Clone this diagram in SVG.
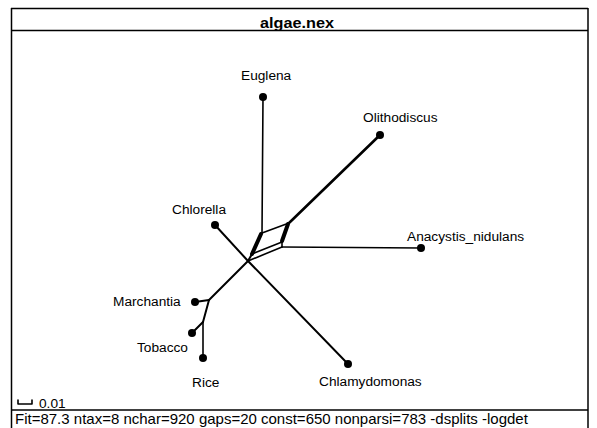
<svg xmlns="http://www.w3.org/2000/svg" width="597" height="428" viewBox="0 0 597 428">
<style>
.frame{fill:none;stroke:#000;stroke-width:1.5}
.e{fill:none;stroke:#000;stroke-width:2;stroke-linecap:round;stroke-linejoin:round}
.thin{stroke-width:1.6}
.thick{stroke-width:4}
.dot{fill:#000}
.lbl{font-family:"Liberation Sans",Arial,sans-serif;font-size:13.7px;fill:#000}
.title{font-family:"Liberation Sans",Arial,sans-serif;font-size:14px;font-weight:bold;fill:#000}
.foot{font-family:"Liberation Sans",Arial,sans-serif;font-size:15px;fill:#000}
</style>
<rect width="597" height="428" fill="#fff"/>
<g id="frame">
<line class="frame" x1="11" y1="8.5" x2="588" y2="8.5"/>
<line class="frame" x1="11" y1="30.5" x2="588" y2="30.5"/>
<line class="frame" x1="11" y1="410" x2="588" y2="410"/>
<line class="frame" x1="11.5" y1="8" x2="11.5" y2="428"/>
<line class="frame" x1="588" y1="8" x2="588" y2="428"/>
<text class="title" x="297" y="28" text-anchor="middle" textLength="74" lengthAdjust="spacingAndGlyphs">algae.nex</text>
<text class="foot" x="15" y="424">Fit=87.3 ntax=8 nchar=920 gaps=20 const=650 nonparsi=783 -dsplits -logdet</text>
</g>
<g id="scalebar">
<path class="e thin" d="M18 400 V404 H32 V400" stroke-linecap="butt"/>
<text class="lbl" x="39" y="408">0.01</text>
</g>
<g id="connectors">
<line class="e thin" x1="262" y1="233" x2="263" y2="97"/>
<line class="e" x1="289" y1="223" x2="380" y2="135" style="stroke-width:2.6"/>
<line class="e thin" x1="282" y1="247" x2="421" y2="248"/>
<line class="e thin" x1="262" y1="233" x2="289" y2="223"/>
<line class="e thick" x1="261" y1="234" x2="252" y2="254"/>
<line class="e thick" x1="288" y1="224" x2="282" y2="241"/>
<line class="e thin" x1="282" y1="242" x2="282" y2="247"/>
<line class="e thin" x1="282" y1="242" x2="252" y2="254"/>
<line class="e thin" x1="282" y1="247" x2="248" y2="261"/>
<line class="e" x1="252" y1="254" x2="248" y2="261"/>
<line class="e" x1="248" y1="261" x2="215" y2="225"/>
<line class="e" x1="248" y1="261" x2="348" y2="364"/>
<line class="e" x1="248" y1="261" x2="209" y2="300"/>
<line class="e" x1="209" y1="300" x2="195" y2="302"/>
<line class="e" x1="209" y1="300" x2="203" y2="322"/>
<line class="e" x1="203" y1="322" x2="192" y2="333"/>
<line class="e thin" x1="203" y1="322" x2="203" y2="358"/>
</g>
<g id="Euglena"><circle class="dot" cx="263" cy="97" r="4"/><text class="lbl" x="241" y="80">Euglena</text></g>
<g id="Olithodiscus"><circle class="dot" cx="380" cy="135" r="4"/><text class="lbl" x="363" y="122">Olithodiscus</text></g>
<g id="Anacystis_nidulans"><circle class="dot" cx="421" cy="248" r="4"/><text class="lbl" x="407" y="241">Anacystis_nidulans</text></g>
<g id="Chlorella"><circle class="dot" cx="215" cy="225" r="4"/><text class="lbl" x="172" y="214">Chlorella</text></g>
<g id="Chlamydomonas"><circle class="dot" cx="348" cy="364" r="4"/><text class="lbl" x="319" y="386">Chlamydomonas</text></g>
<g id="Marchantia"><circle class="dot" cx="195" cy="302" r="4"/><text class="lbl" x="113" y="306">Marchantia</text></g>
<g id="Tobacco"><circle class="dot" cx="192" cy="333" r="4"/><text class="lbl" x="137" y="352">Tobacco</text></g>
<g id="Rice"><circle class="dot" cx="203" cy="358" r="4"/><text class="lbl" x="192" y="387">Rice</text></g>
</svg>
